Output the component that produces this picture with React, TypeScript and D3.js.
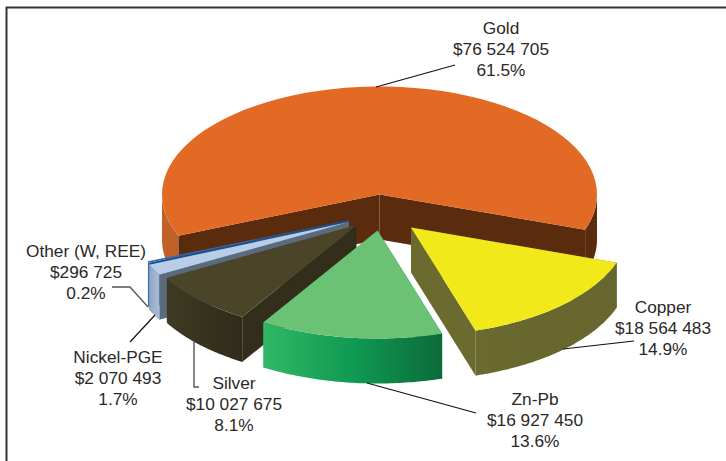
import React from "react";
import * as d3 from "d3";

const categories = ["Copper", "Zn-Pb", "Silver", "Nickel-PGE", "Other (W, REE)", "Gold"];
const values = [18564483, 16927450, 10027675, 2070493, 296725, 76524705];
const valueLabels = ["$18 564 483", "$16 927 450", "$10 027 675", "$2 070 493", "$296 725", "$76 524 705"];
const percentLabels = ["14.9%", "13.6%", "8.1%", "1.7%", "0.2%", "61.5%"];

const W = 726, H = 461;
const RX = 217.5, RY = 108, DEPTH = 45;
const FIRST_ANGLE = 19; // degrees below the +x axis where Copper starts

type Style = { top: string; cut: string; wall: [string, string, string]; apex: [number, number]; label: [number, number] };
const styles: Record<string, Style> = {
  Copper: { top: "#f2e91b", cut: "#6b6a2f", wall: ["#6b6a2f", "#67672e", "#66662e"], apex: [411, 227.5], label: [663, 313] },
  "Zn-Pb": { top: "#6cc274", cut: "#0f6e3c", wall: ["#31b766", "#109a52", "#0c6b39"], apex: [377.5, 230.5], label: [535, 405] },
  Silver: { top: "#4a4428", cut: "#332e1b", wall: ["#3f3a23", "#38331e", "#302b19"], apex: [356.5, 225], label: [234, 389] },
  "Nickel-PGE": { top: "#b9cde6", cut: "#5b6b7d", wall: ["#8fa3bd", "#9fb3cf", "#a9bcd6"], apex: [349, 222], label: [118, 363] },
  "Other (W, REE)": { top: "#2f6db3", cut: "#1f4f8a", wall: ["#2c66a8", "#2f6db3", "#2f6db3"], apex: [349, 220], label: [86, 257] },
  Gold: { top: "#e36a25", cut: "#5a2b0c", wall: ["#5a2b0c", "#5a2b0c", "#c06128"], apex: [379.5, 194.5], label: [501, 34] },
};

const leaders: { pts: [number, number][]; color: string; w: number }[] = [
  { pts: [[376, 87], [455, 65]], color: "#111", w: 1.2 },
  { pts: [[563, 349], [634, 341]], color: "#111", w: 1.2 },
  { pts: [[367, 383], [476, 413]], color: "#111", w: 1.2 },
  { pts: [[194, 342], [194, 387], [199, 387]], color: "#555", w: 1.4 },
  { pts: [[155, 315], [130, 342]], color: "#111", w: 1.2 },
  { pts: [[112, 287], [130, 287], [148, 307]], color: "#555", w: 1.3 },
];

const pieGen = d3.pie<number>().sort(null).startAngle(((FIRST_ANGLE + 90) * Math.PI) / 180).endAngle(((FIRST_ANGLE + 450) * Math.PI) / 180);
const arcs = pieGen(values);
const line = d3.line();

function rim(cx: number, cy: number, a0: number, a1: number, dy = 0): [number, number][] {
  const scale = d3.scaleLinear().domain([0, 1]).range([a0, a1]);
  return d3.range(0, 61).map((i) => {
    const t = scale(i / 60);
    return [cx + RX * Math.cos(t), cy + RY * Math.sin(t) + dy] as [number, number];
  });
}

function wallPath(cx: number, cy: number, a0: number, a1: number) {
  const top = rim(cx, cy, a0, a1);
  const bottom = rim(cx, cy, a0, a1, DEPTH).reverse();
  return line([...top, ...bottom]) + "Z";
}

function Slice({ i }: { i: number }) {
  const name = categories[i];
  const s = styles[name];
  const [cx, cy] = s.apex;
  const a0 = arcs[i].startAngle - Math.PI / 2;
  const a1 = arcs[i].endAngle - Math.PI / 2;
  const top = line([[cx, cy], ...rim(cx, cy, a0, a1)]) + "Z";
  const edge = (a: number) => {
    const x = cx + RX * Math.cos(a), y = cy + RY * Math.sin(a);
    return line([[cx, cy], [x, y], [x, y + DEPTH], [cx, cy + DEPTH]]) + "Z";
  };
  const isGold = name === "Gold";
  return (
    <g>
      {isGold ? (
        <>
          <path d={wallPath(cx, cy, a1 - 2 * Math.PI, 0.01)} fill={s.cut} />
          <path d={wallPath(cx, cy, a0, Math.PI)} fill={s.wall[2]} />
          <path d={edge(a0)} fill={s.cut} />
          <path d={edge(a1)} fill={s.cut} />
        </>
      ) : (
        <>
          <path d={edge(a0)} fill={s.cut} />
          <path d={wallPath(cx, cy, a0, a1)} fill={`url(#w${i})`} />
          {name === "Copper" && <path d={edge(a1)} fill={s.cut} />}
        </>
      )}
      <path d={top} fill={s.top} />
    </g>
  );
}

export default function App() {
  const drawOrder = [5, 4, 3, 2, 1, 0];
  return (
    <svg width={W} height={H} viewBox={`0 0 ${W} ${H}`} style={{ position: "absolute", left: 0, top: 0, background: "#fff" }}>
      <defs>
        {categories.map((c, i) => (
          <linearGradient key={c} id={`w${i}`} x1="1" x2="0" y1="0" y2="0">
            <stop offset="0" stopColor={styles[c].wall[2]} />
            <stop offset="0.5" stopColor={styles[c].wall[1]} />
            <stop offset="1" stopColor={styles[c].wall[0]} />
          </linearGradient>
        ))}
      </defs>
      <path d="M6.5,461V7.5H726" fill="none" stroke="#333" strokeWidth={2} />
      {drawOrder.map((i) => (
        <Slice key={i} i={i} />
      ))}
      {leaders.map((l, i) => (
        <path key={i} d={line(l.pts) as string} fill="none" stroke={l.color} strokeWidth={l.w} />
      ))}
      <g fontFamily="'Liberation Sans', Arial, sans-serif" fontSize={17.3} fill="#2b2829" textAnchor="middle">
        {categories.map((c, i) => {
          const [x, y] = styles[c].label;
          return (
            <text key={c} x={x} y={y}>
              <tspan x={x}>{c}</tspan>
              <tspan x={x} dy={21}>{valueLabels[i]}</tspan>
              <tspan x={x} dy={21}>{percentLabels[i]}</tspan>
            </text>
          );
        })}
      </g>
    </svg>
  );
}
